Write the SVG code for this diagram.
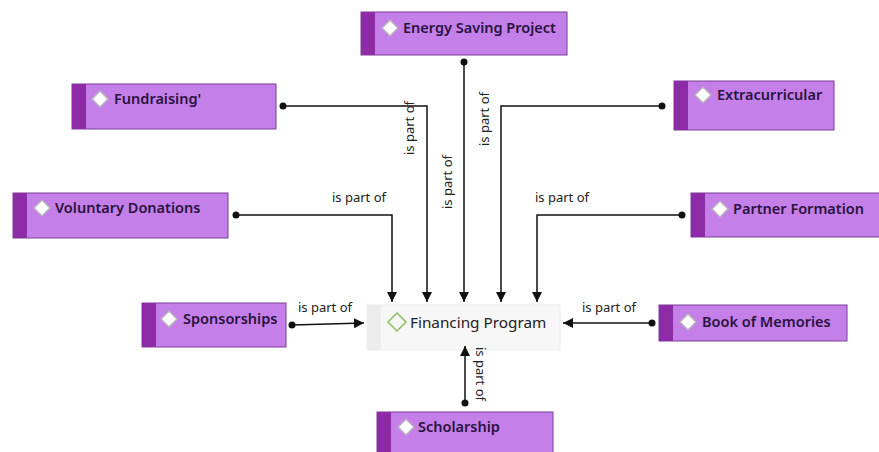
<svg xmlns="http://www.w3.org/2000/svg" width="879" height="452" viewBox="0 0 879 452">
<defs>
<style>
.box{fill:#c47fe8;stroke:#7b3f96;stroke-width:1}
.stripe{fill:#8e2ba6}
.dia{fill:#ffffff;stroke:#b9b0bd;stroke-width:1.5}
.nt{font-family:"Noto Sans","Open Sans",sans-serif;font-size:14.5px;font-weight:600;fill:#2a1340}
.lbl{font-family:"Noto Sans","Open Sans",sans-serif;font-size:13px;fill:#222}
.ln{fill:none;stroke:#111;stroke-width:1.5}
.dot{fill:#111}
</style>
<marker id="arr" viewBox="0 0 10 10" refX="10" refY="5" markerWidth="10" markerHeight="10" markerUnits="userSpaceOnUse" orient="auto">
<path d="M0,0 L10,5 L0,10 z" fill="#111"/>
</marker>
</defs>
<rect width="879" height="452" fill="#ffffff"/>

<g id="financing">
<rect x="367" y="305" width="193" height="45" fill="#f7f7f7" stroke="#ececec"/>
<rect x="367" y="305" width="14" height="45" fill="#ececec"/>
<path d="M397,313 L406,322 L397,331 L388,322 z" fill="none" stroke="#8fbf60" stroke-width="1.5"/>
<text x="410" y="328" font-family="Noto Sans, Open Sans, sans-serif" font-size="15.3" fill="#222">Financing Program</text>
</g>

<g id="energy">
<rect x="361" y="12" width="206" height="43" class="box"/>
<rect x="361" y="12" width="14" height="43" class="stripe"/>
<path d="M390,20 L398,28 L390,36 L382,28 z" class="dia"/>
<text x="403" y="33" class="nt">Energy Saving Project</text>
</g>

<g id="fundraising">
<rect x="72" y="84" width="204" height="45" class="box"/>
<rect x="72" y="84" width="14" height="45" class="stripe"/>
<path d="M100,91 L108,99 L100,107 L92,99 z" class="dia"/>
<text x="114" y="104" class="nt">Fundraising'</text>
</g>

<g id="extracurricular">
<rect x="674" y="81" width="160" height="49" class="box"/>
<rect x="674" y="81" width="14" height="49" class="stripe"/>
<path d="M703,87 L711,95 L703,103 L695,95 z" class="dia"/>
<text x="717" y="100" class="nt">Extracurricular</text>
</g>

<g id="voluntary">
<rect x="13" y="193" width="215" height="45" class="box"/>
<rect x="13" y="193" width="14" height="45" class="stripe"/>
<path d="M42,200 L50,208 L42,216 L34,208 z" class="dia"/>
<text x="55" y="213" class="nt">Voluntary Donations</text>
</g>

<g id="partner">
<rect x="691" y="193" width="192" height="44" class="box"/>
<rect x="691" y="193" width="14" height="44" class="stripe"/>
<path d="M720,201 L728,209 L720,217 L712,209 z" class="dia"/>
<text x="733" y="214" class="nt">Partner Formation</text>
</g>

<g id="sponsorships">
<rect x="142" y="303" width="144" height="44" class="box"/>
<rect x="142" y="303" width="14" height="44" class="stripe"/>
<path d="M169,311 L177,319 L169,327 L161,319 z" class="dia"/>
<text x="183" y="324" class="nt">Sponsorships</text>
</g>

<g id="book">
<rect x="659" y="305" width="188" height="36" class="box"/>
<rect x="659" y="305" width="14" height="36" class="stripe"/>
<path d="M688,314 L696,322 L688,330 L680,322 z" class="dia"/>
<text x="702" y="327" class="nt">Book of Memories</text>
</g>

<g id="scholarship">
<rect x="377" y="412" width="176" height="44" class="box"/>
<rect x="377" y="412" width="14" height="44" class="stripe"/>
<path d="M406,419 L414,427 L406,435 L398,427 z" class="dia"/>
<text x="418" y="432" class="nt">Scholarship</text>
</g>

<g id="connectors">
<path d="M283,106 H427 V302" class="ln" marker-end="url(#arr)"/>
<circle cx="283" cy="106" r="3.5" class="dot"/>
<text class="lbl" transform="translate(414,155) rotate(-90)">is part of</text>

<path d="M236,215 H392 V302" class="ln" marker-end="url(#arr)"/>
<circle cx="236" cy="215" r="3.5" class="dot"/>
<text x="332" y="202" class="lbl">is part of</text>

<path d="M464,62 V302" class="ln" marker-end="url(#arr)"/>
<circle cx="464" cy="62" r="3.5" class="dot"/>
<text class="lbl" transform="translate(452,209) rotate(-90)">is part of</text>

<path d="M662,106 H501 V302" class="ln" marker-end="url(#arr)"/>
<circle cx="662" cy="106" r="3.5" class="dot"/>
<text class="lbl" transform="translate(489,146) rotate(-90)">is part of</text>

<path d="M682,215 H537 V302" class="ln" marker-end="url(#arr)"/>
<circle cx="682" cy="215" r="3.5" class="dot"/>
<text x="535" y="202" class="lbl">is part of</text>

<path d="M292,325 L364,323" class="ln" marker-end="url(#arr)"/>
<circle cx="292" cy="325" r="3.5" class="dot"/>
<text x="298" y="312" class="lbl">is part of</text>

<path d="M652,323 H563" class="ln" marker-end="url(#arr)"/>
<circle cx="652" cy="323" r="3.5" class="dot"/>
<text x="582" y="312" class="lbl">is part of</text>

<path d="M465,403 V346" class="ln" marker-end="url(#arr)"/>
<circle cx="465" cy="403" r="3.5" class="dot"/>
<text class="lbl" transform="translate(476,347) rotate(90)">is part of</text>
</g>
</svg>
